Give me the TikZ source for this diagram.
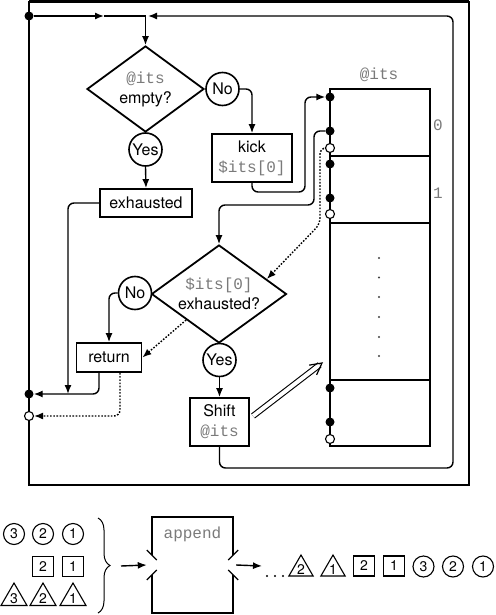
\documentclass[tikz,border=0pt]{standalone}
\usepackage{fontspec}
\setmainfont{TeX Gyre Heros}
\setmonofont{Liberation Mono}
\usetikzlibrary{shapes.geometric,arrows.meta,decorations.pathreplacing,calc}
\definecolor{monogray}{HTML}{7A7A7A}
\newcommand\bigsans{\fontsize{16}{20}\selectfont}
\newcommand\bigmono{\ttfamily\fontsize{16}{20}\selectfont\color{monogray}}
\newcommand\numfont{\fontsize{14}{16}\selectfont}
\begin{document}
\begin{tikzpicture}[x=1pt,y=-1pt,
  conn/.style={line width=1.4pt, rounded corners=6pt},
  witharrow/.style={-{Latex[length=9pt,width=7pt]}},
  dotline/.style={dash pattern=on 1.6pt off 1.6pt},
  flowbox/.style={draw, line width=1.8pt, inner sep=0pt, align=center, font=\bigsans},
  dia/.style={draw, diamond, line width=1.8pt, inner sep=0pt},
  ans/.style={draw, circle, line width=1.6pt, minimum size=33pt, inner sep=0pt, fill=white, font=\bigsans},
  fdot/.style={circle, fill=black, minimum size=9pt, inner sep=0pt},
  odot/.style={circle, draw, fill=white, line width=1.1pt, minimum size=9pt, inner sep=0pt},
  cell/.style={draw, line width=1.5pt, minimum width=100pt, inner sep=0pt},
  cnum/.style={draw, circle, line width=1.1pt, minimum size=21pt, inner sep=0pt, font=\numfont},
  sq/.style={draw, line width=1.1pt, minimum width=21pt, minimum height=20pt, inner sep=0pt, font=\numfont},
  tri/.style={draw, regular polygon, regular polygon sides=3, line width=1.1pt, inner sep=0pt},
]
\useasboundingbox (0,0) rectangle (495,615);
% frame
\draw[line width=1.6pt] (29,1.5) rectangle (469,485);
\draw[line width=3pt] (29,1.5) -- (469,1.5);

% nodes of the flow chart
\node[dia, minimum width=117pt, minimum height=86pt] (d1) at (145.5,89) {};
\node[align=center, font=\bigsans] at (d1) {{\bigmono @its}\\empty?};
\node[ans] (no1) at (222.5,89) {No};
\node[ans] (yes1) at (145.5,149.5) {Yes};
\node[flowbox, minimum width=92pt, minimum height=28pt] (exh) at (146,203) {exhausted};
\node[flowbox, minimum width=80pt, minimum height=48pt] (kick) at (252,158) {kick\\{\bigmono\$its[0]}};
\node[dia, minimum width=135pt, minimum height=98pt] (d2) at (219,294) {};
\node[align=center, font=\bigsans] at (d2) {{\bigmono\$its[0]}\\exhausted?};
\node[ans] (no2) at (135,293) {No};
\node[ans] (yes2) at (219.5,360) {Yes};
\node[flowbox, minimum width=65pt, minimum height=29pt] (ret) at (109,357.5) {return};
\node[flowbox, minimum width=59pt, minimum height=48pt] (shift) at (219.5,422) {Shift\\{\bigmono @its}};

% array
\node[font=\bigmono] (arrlbl) at (379,75) {@its};
\node[cell, minimum height=67pt] (e0) at (380,122.5) {};
\node[cell, minimum height=67pt] (e1) at (380,189.5) {};
\node[cell, minimum height=157pt] (ed) at (380,301.5) {};
\node[cell, minimum height=66pt] (el) at (380,413) {};
\node[font=\bigmono] (i0) at (438,125) {0};
\node[font=\bigmono] (i1) at (438,193) {1};
\foreach \yy in {258,277.5,297,317,337,356} \fill[black!75] (379,\yy) circle (1.2pt);
\node[fdot] (a1) at (330,97) {};
\node[fdot] (a2) at (330,131) {};
\node[odot] (o1) at (330,148) {};
\node[fdot] (b1) at (330,164) {};
\node[fdot] (b2) at (330,198) {};
\node[odot] (o2) at (330,214) {};
\node[fdot] (c1) at (330,388) {};
\node[fdot] (cc2) at (330,422) {};
\node[odot] (o3) at (330,439) {};

% left dots
\node[fdot] (tl) at (29,16) {};
\node[fdot] (lf) at (29,394) {};
\node[odot] (lo) at (29,416) {};

% connectors
\coordinate (J) at (145.5,16);
\coordinate (ja) at (104,16);
\draw[conn,witharrow] (tl) -- (ja);
\draw[conn] (ja) -- (J);
\draw[conn,witharrow] (J) -- (d1.north);
\coordinate (lj) at (148,16);
\draw[conn,witharrow] (shift.south) -- (219.5,468) -- (453,468) -- (453,16) -- (lj);
\draw[conn,witharrow] (no1.east) -| (kick.north);
\draw[conn,witharrow] (yes1.south) -- (exh.north);
\coordinate (m1) at (68,394);
\draw[conn,witharrow] (exh.west) -| (m1);
\draw[conn,witharrow] (kick.south) |- (305,192) |- (a1.west);
\draw[conn,witharrow] (a2.west) -| (314,205) -| (d2.north);
\coordinate (dd) at ($(d2.north)!0.7!(d2.east)$);
\draw[conn,dotline,witharrow] (o1.west) -| (320,224) -- (dd);
\draw[conn,witharrow] (no2.west) -| (ret.north);
\draw[conn,dotline,witharrow] ($(d2.west)!0.52!(d2.south)$) -- (ret.east);
\draw[conn,witharrow] ($(ret.south)+(-10,0)$) |- (lf.east);
\draw[conn,dotline,witharrow] ($(ret.south)+(11,0)$) |- (lo.east);
\draw[conn,witharrow] (yes2.south) -- (shift.north);
\coordinate (da) at (253,416);
\coordinate (db) at (322,363);
\draw[double, double distance=4pt, line width=1.1pt, shorten >=3pt] (da) -- (db);
\draw[line width=1.2pt, line join=miter] ($(db)!13pt!28:(da)$) -- (db) -- ($(db)!13pt!-28:(da)$);

% bottom part
\node[cnum] (l3) at (14,534) {3};
\node[cnum] (l2) at (43,534) {2};
\node[cnum] (l1) at (73,534) {1};
\node[sq] (ls2) at (43,566.5) {2};
\node[sq] (ls1) at (73,566.5) {1};
\node[tri, minimum size=30pt] (lt3) at (14,598) {};
\node[font=\numfont] at ([yshift=-1pt]lt3.center) {3};
\node[tri, minimum size=30pt] (lt2) at (43,598) {};
\node[font=\numfont] at ([yshift=-1pt]lt2.center) {2};
\node[tri, minimum size=30pt] (lt1) at (73,598) {};
\node[font=\numfont] at ([yshift=-1pt]lt1.center) {1};

\coordinate (br1) at (98,518);
\coordinate (br2) at (98,613);
\draw[line width=1pt, decorate, decoration={brace, amplitude=12pt}] (br1) -- (br2);
\coordinate (bt) at (121,566);

\node[minimum width=81pt, minimum height=96pt, inner sep=0pt] (app) at (192.5,565) {};
\node[font=\bigmono] (applbl) at (192.5,534) {append};
\draw[line width=1.5pt] ($(app.west)+(0,-10)$) -- (app.north west) -- (app.north east) -- ($(app.east)+(0,-10)$);
\draw[line width=1.5pt] ($(app.west)+(0,10)$) -- (app.south west) -- (app.south east) -- ($(app.east)+(0,10)$);
\draw[line width=1.2pt] ($(app.west)+(-5,-15)$) -- ($(app.west)+(5,-5)$);
\draw[line width=1.2pt] ($(app.west)+(-5,15)$) -- ($(app.west)+(5,5)$);
\draw[line width=1.2pt] ($(app.east)+(5,-15)$) -- ($(app.east)+(-5,-5)$);
\draw[line width=1.2pt] ($(app.east)+(5,15)$) -- ($(app.east)+(-5,5)$);
\draw[conn,witharrow] (bt) -- ([xshift=-5pt]app.west);
\coordinate (oe) at (262,566);
\draw[conn,witharrow] ([xshift=3pt]app.east) -- (oe);
\foreach \xx in {267,275,283} \fill (\xx,576) circle (1.1pt);

\node[tri, minimum size=28pt] (rt2) at (301,569) {};
\node[font=\numfont] at ([yshift=-1pt]rt2.center) {2};
\node[tri, minimum size=28pt] (rt1) at (333,569) {};
\node[font=\numfont] at ([yshift=-1pt]rt1.center) {1};
\node[sq] (rs2) at (364,566) {2};
\node[sq] (rs1) at (394,566) {1};
\node[cnum] (r3) at (423.5,566.5) {3};
\node[cnum] (r2) at (453,566.5) {2};
\node[cnum] (r1) at (483,566.5) {1};
\end{tikzpicture}
\end{document}
